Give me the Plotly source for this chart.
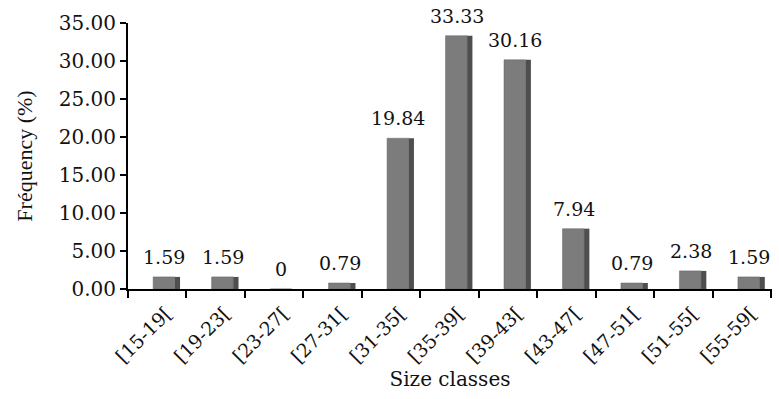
import plotly.graph_objects as go

# Size-class frequency distribution
size_classes = ["[15-19[", "[19-23[", "[23-27[", "[27-31[", "[31-35[", "[35-39[",
                "[39-43[", "[43-47[", "[47-51[", "[51-55[", "[55-59["]
frequency = [1.59, 1.59, 0, 0.79, 19.84, 33.33, 30.16, 7.94, 0.79, 2.38, 1.59]
y_ticks = [0, 5, 10, 15, 20, 25, 30, 35]

labels = [f"{v:g}" for v in frequency]
serif = "DejaVu Serif"

fig = go.Figure()

# front face of each column
fig.add_trace(go.Bar(
    x=size_classes, y=frequency,
    width=0.37, offset=-0.07,
    marker=dict(color="#7c7c7c", line=dict(color="#666666", width=0.5)),
    hoverinfo="x+y",
))
# darker side face for a shaded, solid look
fig.add_trace(go.Bar(
    x=size_classes, y=frequency,
    width=0.09, offset=0.30,
    marker=dict(color="#4e4e4e", line=dict(width=0)),
    hoverinfo="skip",
))

# value labels above each column
for cat, val, lab in zip(size_classes, frequency, labels):
    fig.add_annotation(
        x=cat, y=val, text=lab, showarrow=False,
        yanchor="bottom", yshift=7, xshift=7,
        font=dict(family=serif, size=19, color="#111111"),
    )

fig.update_layout(
    width=779, height=399,
    margin=dict(l=128, r=7, t=23, b=110),
    plot_bgcolor="white", paper_bgcolor="white",
    barmode="overlay", showlegend=False,
    font=dict(family=serif, color="#111111"),
)
fig.update_xaxes(
    type="category",
    showline=True, linecolor="black", linewidth=2,
    ticks="outside", tickson="boundaries", ticklen=7, tickwidth=2, tickcolor="black",
    tickangle=-45, tickfont=dict(family=serif, size=19),
    ticklabelshift=9, ticklabelstandoff=4,
    showgrid=False,
    title=dict(text="Size classes", font=dict(family=serif, size=20), standoff=4),
)
fig.update_yaxes(
    range=[0, 35], tickvals=y_ticks, tickformat=".2f",
    showline=True, linecolor="black", linewidth=2,
    ticks="outside", ticklen=6, tickwidth=2, tickcolor="black",
    tickfont=dict(family=serif, size=20),
    showgrid=False, zeroline=False,
    title=dict(text="Fréquency (%)", font=dict(family="Liberation Serif", size=22), standoff=20),
)

fig.write_html("out.html")
